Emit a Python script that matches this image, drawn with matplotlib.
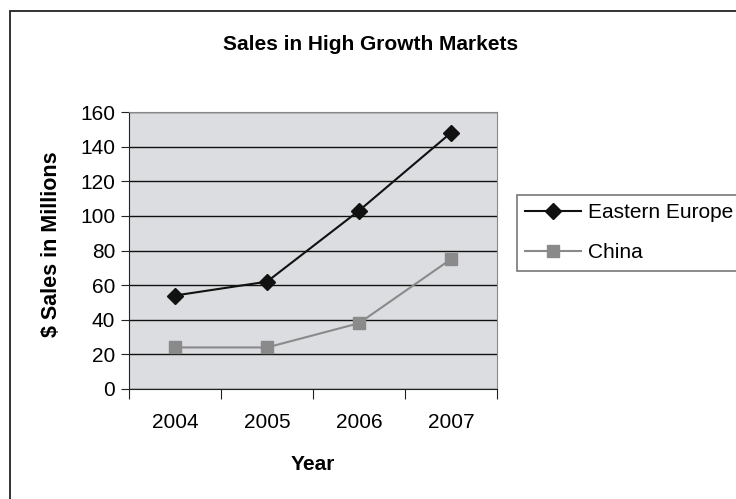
import matplotlib
matplotlib.use("Agg")
import matplotlib.pyplot as plt
from matplotlib.patches import Rectangle

years = ["2004", "2005", "2006", "2007"]
eastern_europe = [54, 62, 103, 148]
china = [24, 24, 38, 75]
yticks = [0, 20, 40, 60, 80, 100, 120, 140, 160]

plt.rcParams['font.family'] = ['Liberation Sans', 'DejaVu Sans']

W, H = 736, 499
fig = plt.figure(figsize=(W/100, H/100), dpi=100)

# outer frame
fig.patches.append(Rectangle((10/W, -0.05), 1.1, 1 - 11/H + 0.05, transform=fig.transFigure,
                             fill=False, edgecolor='#222222', linewidth=1.3))

ax = fig.add_axes([129/W, 1 - 389/H, (497-129)/W, (389-112)/H])
ax.set_facecolor('#dcdde0')
x = list(range(len(years)))
ax.plot(x, eastern_europe, color='#111111', marker='D', markersize=8, linewidth=1.5,
        label='Eastern Europe', zorder=3)
ax.plot(x, china, color='#8a8a8a', marker='s', markersize=9, linewidth=1.5,
        label='China', zorder=3)

ax.set_xlim(-0.5, 3.5)
ax.set_ylim(0, 160)
ax.set_yticks(yticks)
ax.yaxis.grid(True, color='#111111', linewidth=1)
ax.set_axisbelow(True)
ax.set_xticks([-0.5, 0.5, 1.5, 2.5, 3.5], minor=False)
ax.set_xticklabels([])
ax.set_xticks(x, minor=True)
ax.set_xticklabels(years, minor=True)
ax.tick_params(axis='x', which='major', length=7, direction='out', color='#222222')
ax.tick_params(axis='x', which='minor', length=0, pad=17, labelsize=15)
ax.tick_params(axis='y', length=6, direction='out', labelsize=15, color='#222222', pad=4)
for s in ['top', 'right']:
    ax.spines[s].set_color('#888888')
for s in ['left', 'bottom']:
    ax.spines[s].set_color('#222222')

ax.set_xlabel('Year', fontsize=15, fontweight='bold')
ax.xaxis.set_label_coords(0.5, (389 - 464) / 277)
ax.xaxis.label.set_va('center')
ax.set_ylabel('$ Sales in Millions', fontsize=15.5, fontweight='bold')
ax.yaxis.set_label_coords((52 - 129) / 368, (389 - 244) / 277)
ax.yaxis.label.set_va('center')

fig.text(371/W, 1 - 44/H, 'Sales in High Growth Markets', ha='center', va='center',
         fontsize=15, fontweight='bold')

leg = fig.legend(loc='upper left', bbox_to_anchor=(517/W, 1 - 195/H), frameon=True,
                 fancybox=False, fontsize=15, handlelength=2.65, borderpad=0.4,
                 labelspacing=1.0, handletextpad=0.35, borderaxespad=0)
leg.get_frame().set_edgecolor('#555555')
leg.get_frame().set_linewidth(1.2)

fig.savefig('out.png', dpi=100)
